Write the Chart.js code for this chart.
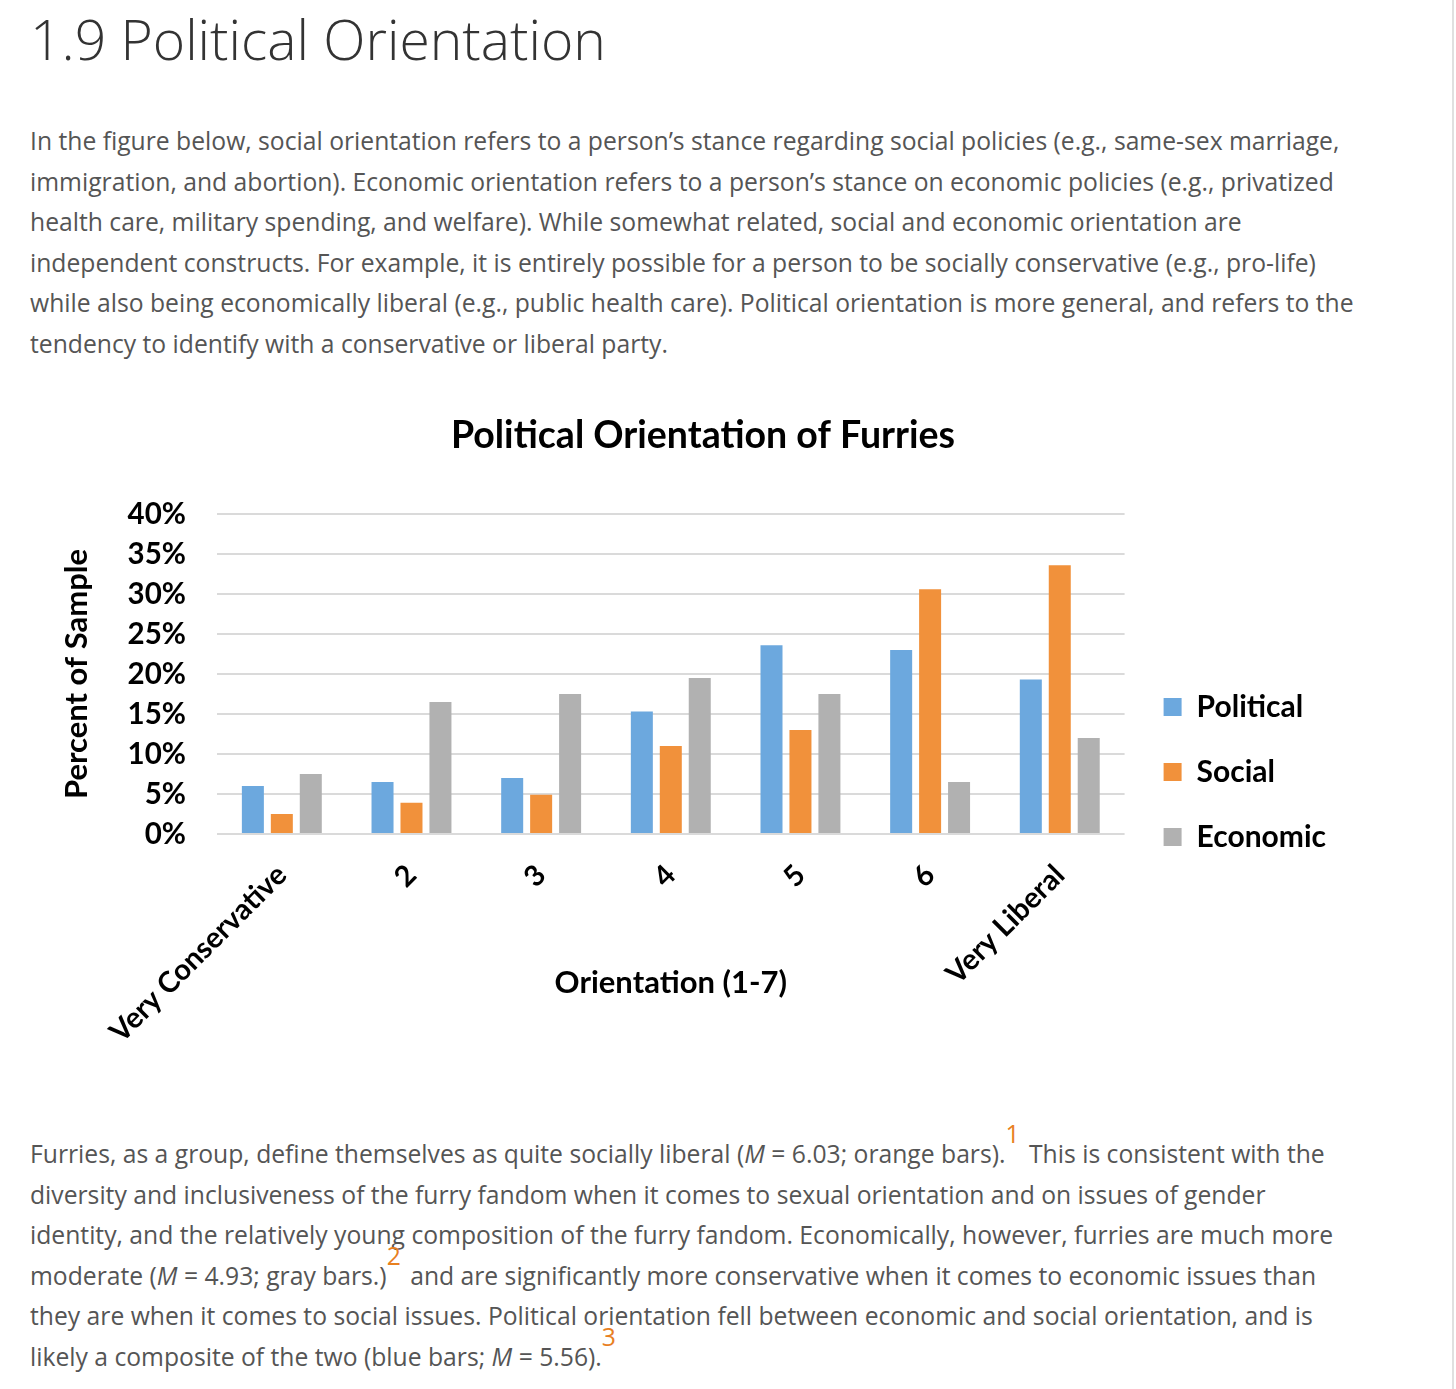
<!DOCTYPE html>
<html>
<head>
<meta charset="utf-8">
<script src="https://cdn.jsdelivr.net/npm/chart.js@4.4.1/dist/chart.umd.min.js"></script>
<style>
  html, body { margin: 0; padding: 0; background: #fff; }
  body { width: 1456px; height: 1389px; position: relative; overflow: hidden; font-family: "Open Sans", sans-serif; }
  h1 { position: absolute; left: 30px; top: 6px; margin: 0; font-weight: 300; font-size: 55.2px; line-height: 1.2; color: #333; white-space: nowrap; }
  .para { position: absolute; left: 30px; margin: 0; font-size: 24.7px; line-height: 40.6px; color: #555; }
  .para span.l { display: block; white-space: nowrap; }
  .sup { color: #e8801f; position: relative; top: -20px; margin-left: 0; margin-right: 3px; }
  #p1 { top: 121px; }
  #p2 { top: 1134px; }
  #chartBox { position: absolute; left: 0; top: 390px; width: 1456px; height: 680px; }
  #edge { position: absolute; left: 1452px; top: 0; width: 2px; height: 1389px; background: #e0e0e0; }
</style>
</head>
<body>
<h1>1.9 Political Orientation</h1>
<p class="para" id="p1">
  <span class="l">In the figure below, social orientation refers to a person’s stance regarding social policies (e.g., same-sex marriage,</span>
  <span class="l">immigration, and abortion). Economic orientation refers to a person’s stance on economic policies (e.g., privatized</span>
  <span class="l">health care, military spending, and welfare). While somewhat related, social and economic orientation are</span>
  <span class="l">independent constructs. For example, it is entirely possible for a person to be socially conservative (e.g., pro-life)</span>
  <span class="l">while also being economically liberal (e.g., public health care). Political orientation is more general, and refers to the</span>
  <span class="l">tendency to identify with a conservative or liberal party.</span>
</p>
<div id="chartBox"><canvas id="chart"></canvas></div>
<p class="para" id="p2">
  <span class="l">Furries, as a group, define themselves as quite socially liberal (<i>M</i> = 6.03; orange bars).<span class="sup">1</span> This is consistent with the</span>
  <span class="l">diversity and inclusiveness of the furry fandom when it comes to sexual orientation and on issues of gender</span>
  <span class="l">identity, and the relatively young composition of the furry fandom. Economically, however, furries are much more</span>
  <span class="l">moderate (<i>M</i> = 4.93; gray bars.)<span class="sup">2</span> and are significantly more conservative when it comes to economic issues than</span>
  <span class="l">they are when it comes to social issues. Political orientation fell between economic and social orientation, and is</span>
  <span class="l">likely a composite of the two (blue bars; <i>M</i> = 5.56).<span class="sup">3</span></span>
</p>
<div id="edge"></div>
<script>
// Orientation categories (1-7)
const categories = ['Very Conservative', '2', '3', '4', '5', '6', 'Very Liberal'];

// Percent of sample
const political = [6.0, 6.5, 7.0, 15.3, 23.6, 23.0, 19.3];
const social = [2.5, 3.9, 4.9, 11.0, 13.0, 30.6, 33.6];
const economic = [7.5, 16.5, 17.5, 19.5, 17.5, 6.5, 12.0];

const yMin = 0, yMax = 40, yStep = 5;

const chartFont = 'Lato';

// move the legend down next to the lower part of the plot
const legendShift = {
  id: 'legendShift',
  afterLayout(chart) {
    const lg = chart.legend;
    if (!lg) return;
    lg.top += 55; lg.bottom += 55;
    lg.left += 4; lg.right += 4;
  }
};

const ctx = document.getElementById('chart');
new Chart(ctx, {
  type: 'bar',
  data: {
    labels: categories,
    datasets: [
      { label: 'Political', data: political, backgroundColor: '#6ca8de' },
      { label: 'Social', data: social, backgroundColor: '#f1913b' },
      { label: 'Economic', data: economic, backgroundColor: '#b1b1b1' }
    ]
  },
  options: {
    responsive: true,
    maintainAspectRatio: false,
    animation: false,
    categoryPercentage: 0.67,
    barPercentage: 0.76,
    layout: { padding: { left: 74, right: 124, top: 0, bottom: 26 } },
    plugins: {
      title: {
        display: true,
        text: 'Political Orientation of Furries',
        color: '#000',
        font: { family: chartFont, size: 37.5, weight: 'bold' },
        padding: { top: 23, bottom: 56 }
      },
      legend: {
        position: 'right',
        labels: {
          boxWidth: 18, boxHeight: 18, padding: 35,
          color: '#000',
          font: { family: chartFont, size: 30, weight: 'bold' }
        }
      },
      tooltip: { enabled: false }
    },
    scales: {
      x: {
        grid: { display: false },
        border: { display: false },
        ticks: {
          minRotation: 45, maxRotation: 45, padding: 16,
          color: '#000',
          font: { family: chartFont, size: 29, weight: 'bold' }
        },
        title: {
          display: true, text: 'Orientation (1-7)', color: '#000',
          font: { family: chartFont, size: 31, weight: 'bold' },
          padding: { top: 4, bottom: 42 }
        },
        afterFit(scale) { scale.height = 210; }
      },
      y: {
        min: yMin, max: yMax,
        grid: { color: '#dadada', lineWidth: 2, drawTicks: false },
        border: { display: false },
        ticks: {
          stepSize: yStep, padding: 31,
          color: '#000',
          font: { family: chartFont, size: 29.5, weight: 'bold' },
          callback: v => v + '%'
        },
        title: {
          display: true, text: 'Percent of Sample', color: '#000',
          font: { family: chartFont, size: 31, weight: 'bold' },
          padding: { top: -16, bottom: 4 }
        },
        afterFit(scale) { scale.width = 143; }
      }
    }
  },
  plugins: [legendShift]
});
</script>
</body>
</html>
